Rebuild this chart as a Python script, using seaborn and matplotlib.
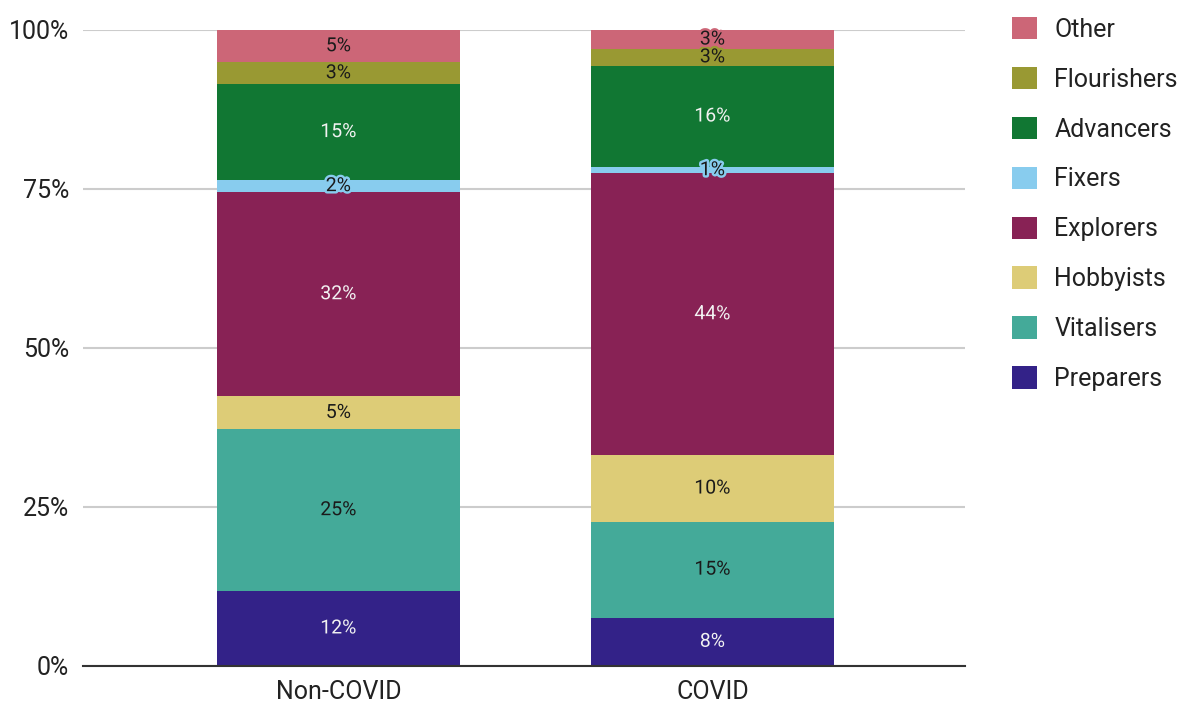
import matplotlib
matplotlib.use("Agg")
import matplotlib.pyplot as plt
import matplotlib.patheffects as pe
from matplotlib.patches import Patch
import seaborn as sns
import numpy as np
import pandas as pd

# data (percent of respondents), bottom segment first
groups = ["Non-COVID", "COVID"]
segments = ["Preparers", "Vitalisers", "Hobbyists", "Explorers",
            "Fixers", "Advancers", "Flourishers", "Other"]
non_covid = [11.8, 25.4, 5.2, 32.1, 1.9, 15.1, 3.4, 5.1]
covid = [7.6, 15.1, 10.4, 44.4, 0.9, 16.0, 2.6, 3.0]

colors = ["#332288", "#44AA99", "#DDCC77", "#882255",
          "#88CCEE", "#117733", "#999933", "#CC6677"]
light_text = ["Preparers", "Explorers", "Advancers"]

df = pd.DataFrame({"segment": segments, "Non-COVID": non_covid, "COVID": covid})

sns.set_theme(style="white")
plt.rcParams["font.family"] = ["Roboto", "DejaVu Sans"]

fig = plt.figure(figsize=(11.8, 7.04), dpi=100)
ax = fig.add_axes([0.0703, 0.054, 0.7475, 0.9034])

bottom = np.zeros(len(groups))
for seg, col in zip(segments, colors):
    row = df[df["segment"] == seg]
    vals = np.array([row[g].iloc[0] for g in groups])
    sns.barplot(x=groups, y=vals, order=groups, color=col, saturation=1,
                width=0.65, bottom=bottom, errorbar=None, ax=ax,
                linewidth=0, zorder=3)
    txt_col = "#f2f2f2" if seg in light_text else "#1a1a1a"
    for i, v in enumerate(vals):
        ax.text(i, bottom[i] + v / 2, f"{round(v):d}%", ha="center", va="center",
                fontsize=14, color=txt_col, zorder=5,
                path_effects=[pe.withStroke(linewidth=3.5, foreground=col)])
    bottom = bottom + vals

ax.set_xlim(-0.683, 1.675)
ax.set_ylim(0, 100)
ax.set_yticks([0, 25, 50, 75, 100])
ax.set_yticklabels(["0%", "25%", "50%", "75%", "100%"])
ax.yaxis.grid(True, color="#cccccc", linewidth=1.5, zorder=0)
ax.set_axisbelow(True)
for s in ["top", "right", "left"]:
    ax.spines[s].set_visible(False)
ax.spines["bottom"].set_color("#333333")
ax.spines["bottom"].set_linewidth(1.5)
ax.spines["bottom"].set_zorder(6)
ax.tick_params(axis="both", length=0, labelsize=18, colors="#222222")
ax.tick_params(axis="y", pad=10)
ax.tick_params(axis="x", pad=10)
ax.set_xlabel("")
ax.set_ylabel("")

handles = [Patch(facecolor=c, edgecolor="none", label=s)
           for s, c in zip(segments[::-1], colors[::-1])]
fig.legend(handles=handles, loc="upper left", bbox_to_anchor=(0.849, 0.99),
           frameon=False, fontsize=18, handlelength=1.0, handleheight=1.0,
           handletextpad=0.7, labelspacing=1.005, borderaxespad=0,
           labelcolor="#222222")

fig.savefig("out.png", dpi=100)
